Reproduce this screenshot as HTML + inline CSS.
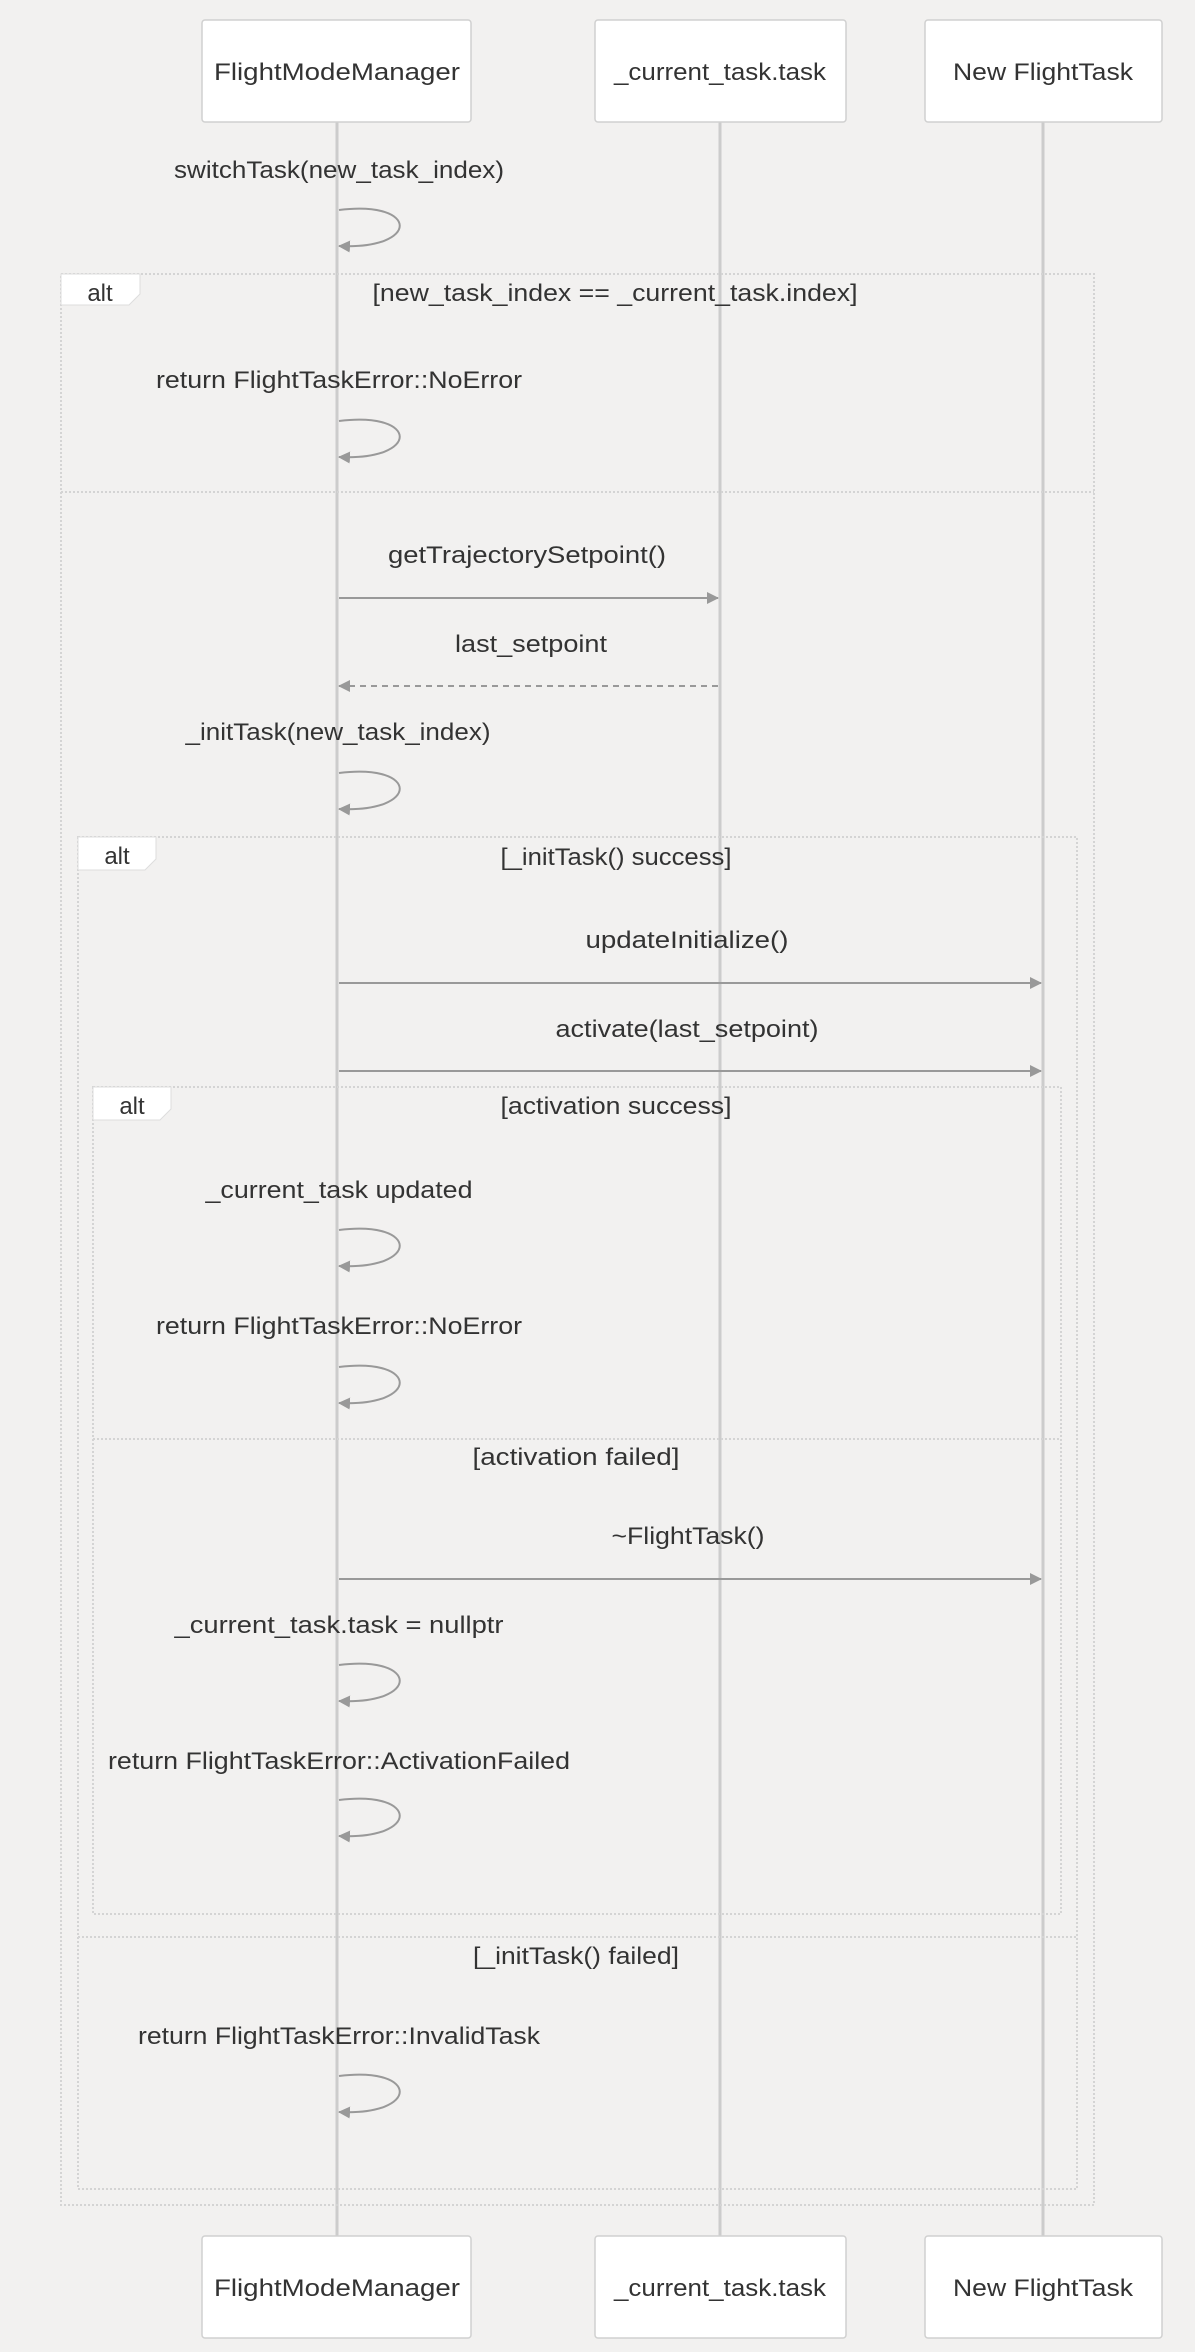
<!DOCTYPE html>
<html><head><meta charset="utf-8"><style>
html,body{margin:0;padding:0;background:#f2f1f0;}
svg{display:block;}
text{font-family:"Liberation Sans",sans-serif;font-size:24px;fill:#333;}
</style></head><body>
<svg width="1195" height="2352" viewBox="0 0 1195 2352" xmlns="http://www.w3.org/2000/svg">
<defs>
<marker id="ah" markerWidth="12" markerHeight="12" refX="11" refY="6" orient="auto" markerUnits="userSpaceOnUse">
<path d="M0,0 L12,6 L0,12 z" fill="#999"/></marker>
</defs>
<rect width="1195" height="2352" fill="#f2f1f0"/>
<!-- lifelines -->
<g stroke="#ccc" stroke-width="3">
<line x1="337" y1="122" x2="337" y2="2236"/>
<line x1="720" y1="122" x2="720" y2="2236"/>
<line x1="1043" y1="122" x2="1043" y2="2236"/>
</g>
<!-- frames -->
<g fill="none" stroke="#d4d4d4" stroke-width="2" stroke-dasharray="2,2">
<rect x="61" y="274" width="1033" height="1931"/>
<line x1="61" y1="492" x2="1094" y2="492"/>
<rect x="78" y="837" width="999" height="1352"/>
<line x1="78" y1="1937" x2="1077" y2="1937"/>
<rect x="93" y="1087" width="968" height="827"/>
<line x1="93" y1="1439" x2="1061" y2="1439"/>
</g>
<g fill="#fff" stroke="#ddd" stroke-width="1">
<polygon points="61,274 140,274 140,294 129,305 61,305"/>
<polygon points="78,837 156,837 156,859 145,870 78,870"/>
<polygon points="93,1087 171,1087 171,1109 160,1120 93,1120"/>
</g>
<text x="100" y="301" text-anchor="middle">alt</text>
<text x="117" y="864" text-anchor="middle">alt</text>
<text x="132" y="1114" text-anchor="middle">alt</text>
<text x="615" y="301" text-anchor="middle" textLength="485" lengthAdjust="spacingAndGlyphs">[new_task_index == _current_task.index]</text>
<text x="616" y="865" text-anchor="middle" textLength="231" lengthAdjust="spacingAndGlyphs">[_initTask() success]</text>
<text x="616" y="1114" text-anchor="middle" textLength="231" lengthAdjust="spacingAndGlyphs">[activation success]</text>
<text x="576" y="1465" text-anchor="middle" textLength="207" lengthAdjust="spacingAndGlyphs">[activation failed]</text>
<text x="576" y="1964" text-anchor="middle" textLength="206" lengthAdjust="spacingAndGlyphs">[_initTask() failed]</text>
<!-- participant boxes -->
<g fill="#fff" stroke="#d0d0d0" stroke-width="1.5">
<rect x="202" y="20" width="269" height="102" rx="3"/>
<rect x="595" y="20" width="251" height="102" rx="3"/>
<rect x="925" y="20" width="237" height="102" rx="3"/>
<rect x="202" y="2236" width="269" height="102" rx="3"/>
<rect x="595" y="2236" width="251" height="102" rx="3"/>
<rect x="925" y="2236" width="237" height="102" rx="3"/>
</g>
<g text-anchor="middle">
<text x="337" y="80" textLength="246" lengthAdjust="spacingAndGlyphs">FlightModeManager</text>
<text x="720" y="80" textLength="212" lengthAdjust="spacingAndGlyphs">_current_task.task</text>
<text x="1043" y="80" textLength="180" lengthAdjust="spacingAndGlyphs">New FlightTask</text>
<text x="337" y="2296" textLength="246" lengthAdjust="spacingAndGlyphs">FlightModeManager</text>
<text x="720" y="2296" textLength="212" lengthAdjust="spacingAndGlyphs">_current_task.task</text>
<text x="1043" y="2296" textLength="180" lengthAdjust="spacingAndGlyphs">New FlightTask</text>
</g>
<!-- message labels -->
<g text-anchor="middle">
<text x="339" y="178" textLength="330" lengthAdjust="spacingAndGlyphs">switchTask(new_task_index)</text>
<text x="339" y="388" textLength="366" lengthAdjust="spacingAndGlyphs">return FlightTaskError::NoError</text>
<text x="527" y="563" textLength="278" lengthAdjust="spacingAndGlyphs">getTrajectorySetpoint()</text>
<text x="531" y="652" textLength="152" lengthAdjust="spacingAndGlyphs">last_setpoint</text>
<text x="338" y="740" textLength="305" lengthAdjust="spacingAndGlyphs">_initTask(new_task_index)</text>
<text x="687" y="948" textLength="203" lengthAdjust="spacingAndGlyphs">updateInitialize()</text>
<text x="687" y="1037" textLength="263" lengthAdjust="spacingAndGlyphs">activate(last_setpoint)</text>
<text x="339" y="1198" textLength="267" lengthAdjust="spacingAndGlyphs">_current_task updated</text>
<text x="339" y="1334" textLength="366" lengthAdjust="spacingAndGlyphs">return FlightTaskError::NoError</text>
<text x="688" y="1544" textLength="153" lengthAdjust="spacingAndGlyphs">~FlightTask()</text>
<text x="339" y="1633" textLength="329" lengthAdjust="spacingAndGlyphs">_current_task.task = nullptr</text>
<text x="339" y="1769" textLength="462" lengthAdjust="spacingAndGlyphs">return FlightTaskError::ActivationFailed</text>
<text x="339" y="2044" textLength="402" lengthAdjust="spacingAndGlyphs">return FlightTaskError::InvalidTask</text>
</g>
<!-- arrows -->
<g stroke="#999" stroke-width="2" fill="none" marker-end="url(#ah)">
<line x1="339" y1="598" x2="718" y2="598"/>
<line x1="718" y1="686" x2="339" y2="686" stroke-dasharray="6,5"/>
<line x1="339" y1="983" x2="1041" y2="983"/>
<line x1="339" y1="1071" x2="1041" y2="1071"/>
<line x1="339" y1="1579" x2="1041" y2="1579"/>
<path d="M339,210 C420,200 420,250 339,246"/>
<path d="M339,421 C420,411 420,461 339,457"/>
<path d="M339,773 C420,763 420,813 339,809"/>
<path d="M339,1230 C420,1220 420,1270 339,1266"/>
<path d="M339,1367 C420,1357 420,1407 339,1403"/>
<path d="M339,1665 C420,1655 420,1705 339,1701"/>
<path d="M339,1800 C420,1790 420,1840 339,1836"/>
<path d="M339,2076 C420,2066 420,2116 339,2112"/>
</g>
</svg>
</body></html>
